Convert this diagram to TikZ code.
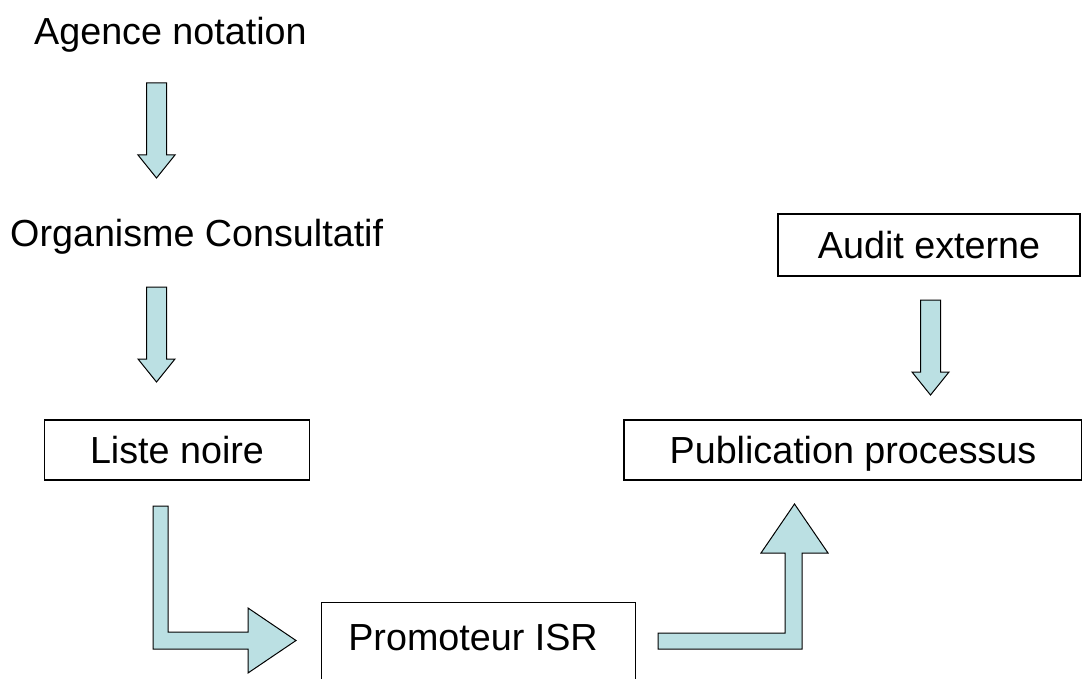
\documentclass[tikz,border=0pt]{standalone}
\usepackage{fontspec}
\setmainfont{Liberation Sans}
\usepackage{tikz}
\definecolor{flechebleu}{RGB}{187,224,227}

\tikzset{
  lbl/.style={font=\fontsize{37.7}{45}\selectfont, inner sep=0pt},
  boite/.style={draw=black, line width=1.2pt, fill=white, inner sep=0pt,
    font=\fontsize{37.7}{45}\selectfont, text height=27pt, text depth=0pt},
  fleche/.style={draw=black, line width=1pt, fill=flechebleu, line join=miter}
}

\begin{document}
\begin{tikzpicture}[x=1pt,y=-1pt]
  \useasboundingbox (0,0) rectangle (1082,679);
  \clip (0,0) rectangle (1082,679);
  % left column
  \node[lbl,anchor=base west] (agence) at (34,45) {Agence notation};
  \node[lbl,anchor=base west] (organisme) at (10,247) {Organisme Consultatif};
  \node[boite,minimum width=265pt,minimum height=60pt] (liste) at (177,450) {Liste noire};
  % right column
  \node[boite,minimum width=302pt,minimum height=62pt] (audit) at (929,245) {Audit externe};
  \node[boite,minimum width=458pt,minimum height=60pt] (publi) at (853,450) {Publication processus};
  % bottom box, open at the lower edge
  \node[boite,minimum width=314pt,minimum height=110pt,anchor=north west] (promo) at (321,602) {};
  \node[lbl,anchor=base] (promotxt) at (473,650) {Promoteur ISR};
  % straight arrows
  \foreach \cx/\yt in {156.5/83, 156.5/287, 930.5/300}
    \draw[fleche] (\cx-10,\yt) -- ++(20,0) -- ++(0,72) -- ++(8.5,0)
      -- ++(-18.5,23) -- ++(-18.5,-23) -- ++(8.5,0) -- cycle;
  % bent arrows
  \draw[fleche] (153,506) -- (168,506) -- (168,632) -- (248,632) -- (248,608)
    -- (296,640.5) -- (248,673) -- (248,649) -- (153,649) -- cycle;
  \draw[fleche] (658,633) -- (785,633) -- (785,553) -- (761,553) -- (794.5,504)
    -- (828,553) -- (802,553) -- (802,649) -- (658,649) -- cycle;
\end{tikzpicture}
\end{document}
